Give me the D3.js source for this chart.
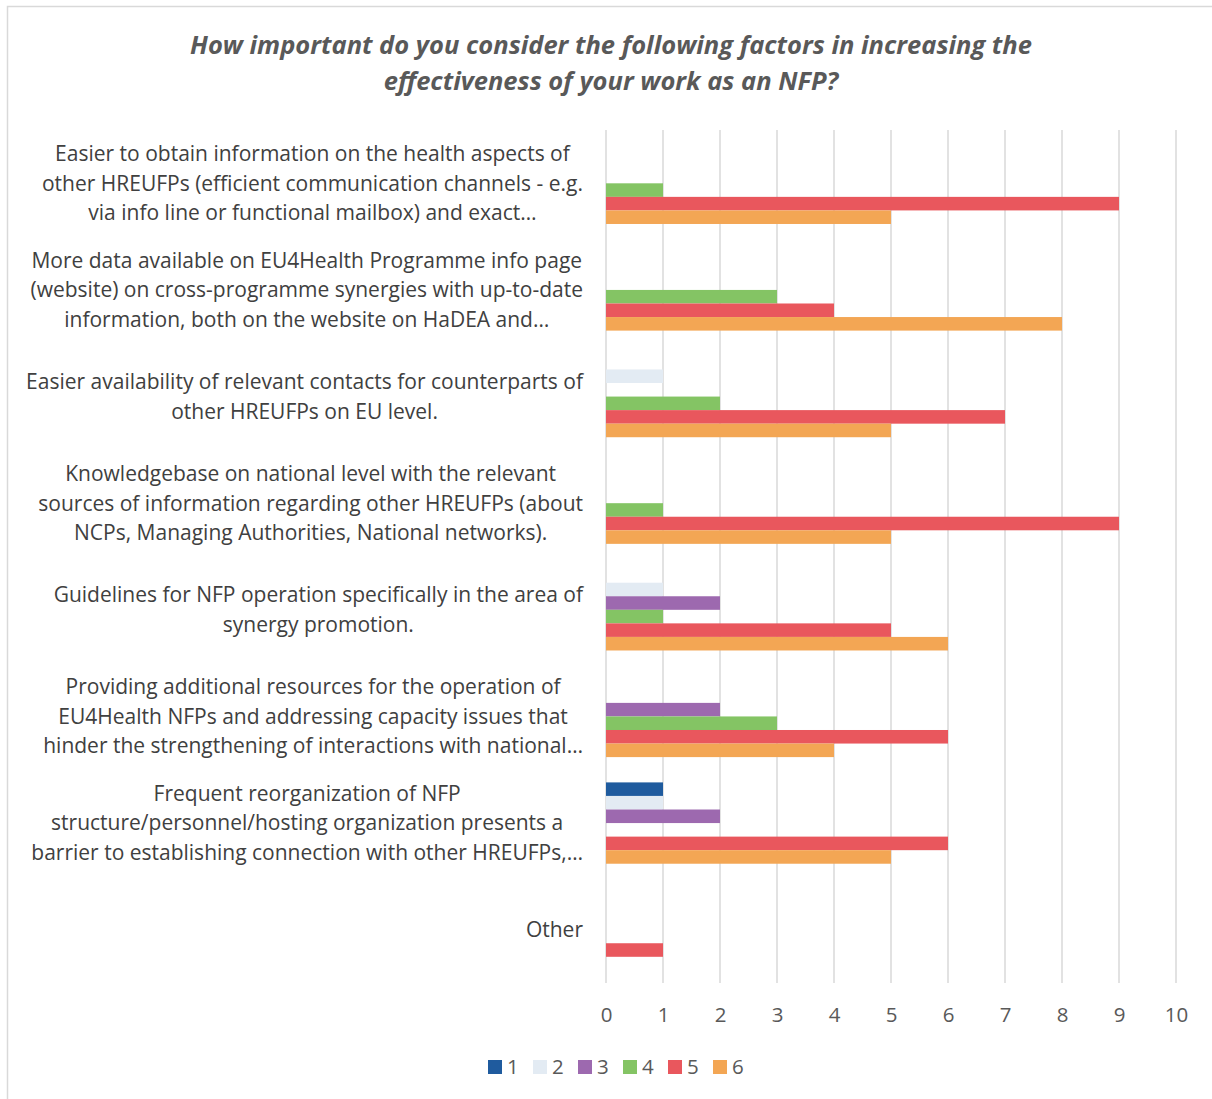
<!DOCTYPE html>
<html>
<head>
<meta charset="utf-8">
<script src="https://cdn.jsdelivr.net/npm/d3@7"></script>
<style>
  html, body { margin: 0; padding: 0; background: #fff; }
  svg { display: block; }
</style>
</head>
<body>
<svg id="chart" width="1212" height="1099"></svg>
<script>
// Survey categories (y axis), each label split into its displayed lines
const categories = [
  ["Easier to obtain information on the health aspects of",
   "other HREUFPs (efficient communication channels - e.g.",
   "via info line or functional mailbox) and exact…"],
  ["More data available on EU4Health Programme info page",
   "(website) on cross-programme synergies with up-to-date",
   "information, both on the website on HaDEA and…"],
  ["Easier availability of relevant contacts for counterparts of",
   "other HREUFPs on EU level."],
  ["Knowledgebase on national level with the relevant",
   "sources of information regarding other HREUFPs (about",
   "NCPs, Managing Authorities, National networks)."],
  ["Guidelines for NFP operation specifically in the area of",
   "synergy promotion."],
  ["Providing additional resources for the operation of",
   "EU4Health NFPs and addressing capacity issues that",
   "hinder the strengthening of interactions with national…"],
  ["Frequent reorganization of NFP",
   "structure/personnel/hosting organization presents a",
   "barrier to establishing connection with other HREUFPs,…"],
  ["Other"]
];

// Rating series 1..6
const seriesNames = ["1", "2", "3", "4", "5", "6"];

// Counts per category, one array per rating
const rating1 = [0, 0, 0, 0, 0, 0, 1, 0];
const rating2 = [0, 0, 1, 0, 1, 0, 1, 0];
const rating3 = [0, 0, 0, 0, 2, 2, 2, 0];
const rating4 = [1, 3, 2, 1, 1, 3, 0, 0];
const rating5 = [9, 4, 7, 9, 5, 6, 6, 1];
const rating6 = [5, 8, 5, 5, 6, 4, 5, 0];

const xTicks = [0, 1, 2, 3, 4, 5, 6, 7, 8, 9, 10];

const titleLines = [
  "How important do you consider the following factors in increasing the",
  "effectiveness of your work as an NFP?"
];

const seriesColors = ["#1F5B9E", "#E3EBF3", "#9D69AF", "#84C464", "#E9575D", "#F3A654"];

const values = [rating1, rating2, rating3, rating4, rating5, rating6];

const svg = d3.select("#chart");
const FONT = "'Open Sans', sans-serif";

// outer frame
svg.append("path")
  .attr("d", "M7.5,1099 L7.5,6.5 L1212,6.5")
  .attr("fill", "none")
  .attr("stroke", "#D9D9D9")
  .attr("stroke-width", 1.5);

// title
svg.append("g").selectAll("text")
  .data(titleLines)
  .join("text")
  .attr("x", 611)
  .attr("y", (d, i) => 54 + i * 36)
  .attr("text-anchor", "middle")
  .attr("font-family", FONT)
  .attr("font-size", 25.5)
  .attr("font-weight", "bold")
  .attr("font-style", "italic")
  .attr("fill", "#595959")
  .text(d => d);

const plot = { left: 606, right: 1176, top: 130, bottom: 983 };

const x = d3.scaleLinear().domain([0, 10]).range([plot.left, plot.right]);
const y0 = d3.scaleBand()
  .domain(d3.range(categories.length))
  .range([plot.top, plot.bottom])
  .padding(0);
const y1 = d3.scaleBand()
  .domain(seriesNames)
  .range([0, y0.bandwidth()])
  .paddingInner(0)
  .paddingOuter(0.933);

// vertical gridlines
svg.append("g")
  .selectAll("line")
  .data(xTicks)
  .join("line")
  .attr("x1", d => x(d)).attr("x2", d => x(d))
  .attr("y1", plot.top).attr("y2", plot.bottom)
  .attr("stroke", "#D9D9D9")
  .attr("stroke-width", 1.5);

// bars
const barGroups = svg.append("g")
  .selectAll("g")
  .data(categories.map((c, i) => i))
  .join("g")
  .attr("transform", i => `translate(0,${y0(i)})`);

barGroups.selectAll("rect")
  .data(i => seriesNames.map((s, k) => ({ s, k, v: values[k][i] })).filter(d => d.v > 0))
  .join("rect")
  .attr("x", x(0))
  .attr("y", d => y1(d.s))
  .attr("width", d => x(d.v) - x(0))
  .attr("height", y1.bandwidth())
  .attr("fill", d => seriesColors[d.k]);

// x axis tick labels
const xAxis = d3.axisBottom(x).tickValues(xTicks).tickSize(0).tickPadding(0).tickFormat(d3.format("d"));
const gx = svg.append("g")
  .attr("transform", `translate(0,${plot.bottom + 39})`)
  .call(xAxis);
gx.select(".domain").remove();
gx.selectAll("text")
  .attr("dy", 0)
  .attr("font-family", FONT)
  .attr("font-size", 20.5)
  .attr("fill", "#595959");

// category labels: lines centred within a block whose right edge sits at the axis
const LABEL_RIGHT = 583;
const LINE_H = 29.5;
const labelGroups = svg.append("g")
  .selectAll("g")
  .data(categories)
  .join("g");

labelGroups.each(function (lines, i) {
  const g = d3.select(this);
  const cy = y0(i) + y0.bandwidth() / 2;
  const t = g.selectAll("text")
    .data(lines)
    .join("text")
    .attr("y", (d, j) => cy + (j - (lines.length - 1) / 2) * LINE_H)
    .attr("dy", "0.35em")
    .attr("text-anchor", "middle")
    .attr("font-family", FONT)
    .attr("font-size", 21)
    .attr("fill", "#404040")
    .text(d => d);
  let maxW = 0;
  t.each(function () { maxW = Math.max(maxW, this.getComputedTextLength()); });
  t.attr("x", LABEL_RIGHT - maxW / 2);
});

// legend
const legend = svg.append("g").attr("transform", "translate(488,1067)");
const items = legend.selectAll("g")
  .data(seriesNames)
  .join("g")
  .attr("transform", (d, i) => `translate(${i * 45},0)`);
items.append("rect")
  .attr("x", 0).attr("y", -7)
  .attr("width", 14).attr("height", 14)
  .attr("fill", (d, i) => seriesColors[i]);
items.append("text")
  .attr("x", 19).attr("y", 0)
  .attr("dy", "0.35em")
  .attr("font-family", FONT)
  .attr("font-size", 20.5)
  .attr("fill", "#595959")
  .text(d => d);
</script>
</body>
</html>
